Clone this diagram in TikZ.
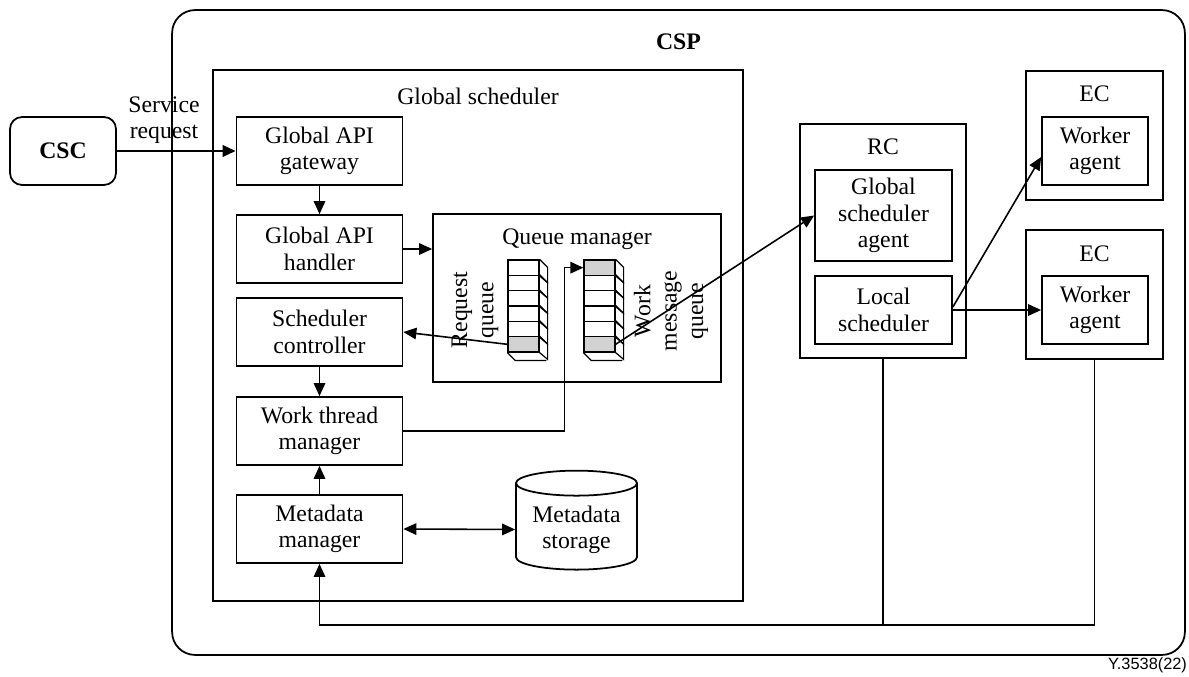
\documentclass[tikz,border=0pt]{standalone}
\usepackage{fontspec}
\setmainfont{Liberation Serif}
\newfontfamily\figsans{Liberation Sans}
\usetikzlibrary{arrows.meta,shapes.geometric}

\begin{document}
\begin{tikzpicture}[
		x=0.02cm, y=-0.02cm,
		font=\fontsize{13.5}{15}\selectfont,
		box/.style={
			draw,
			line width=1pt,
			align=center,
			minimum width=3.32cm,
			minimum height=1.36cm,
			inner sep=2pt
		},
		frame/.style={draw, line width=1pt, inner sep=0pt},
		cell/.style={draw, line width=0.7pt, inner sep=0pt,
			minimum width=0.62cm, minimum height=0.3067cm},
		shaded/.style={fill=gray!35},
		line/.style={draw, line width=0.9pt},
		arr/.style={line, -{Triangle[length=2.6mm, width=2.3mm]}}
		]
		
		\useasboundingbox (0,0) rectangle (1189,676);
		
		% CSP outer frame
		\node[frame, rounded corners=0.46cm, minimum width=20.26cm, minimum height=12.9cm] (csp) at (678.5,332.5) {};
		\node[font=\fontsize{13.5}{15}\selectfont\bfseries] (csplabel) at (678.5,42) {CSP};
		
		% CSC
		\node[box, rounded corners=0.24cm, minimum width=2.12cm, font=\fontsize{13.5}{15}\selectfont\bfseries] (csc) at (63,151) {CSC};
		
		% Global scheduler
		\node[frame, minimum width=10.6cm, minimum height=10.62cm] (gs) at (478,335.5) {};
		\node (gslabel) at (478,96) {Global scheduler};
		
		\node[box] (gw) at (319.5,151) {Global API\\gateway};
		\node[box] (gh) at (319.5,249) {Global API\\handler};
		\node[box] (sc) at (319.5,332) {Scheduler\\controller};
		\node[box] (wtm) at (319.5,431) {Work thread\\manager};
		\node[box] (mm) at (319.5,529) {Metadata\\manager};
		
		\node[cylinder, shape border rotate=90, draw, line width=1pt, aspect=0.25,
			minimum width=2.42cm, minimum height=1.98cm, align=center] (ms) at (576.5,529.5) {Metadata\\storage};
		
		% Queue manager
		\node[frame, minimum width=5.76cm, minimum height=3.36cm] (qm) at (577,298) {};
		\node (qmlabel) at (577,239) {Queue manager};
		
		% Queues
		\foreach \i in {1,...,6} {
			\node[cell] (rq\i) at (523.5,{260+15.33*(\i-0.5)}) {};
			\node[cell] (wq\i) at (599.5,{260+15.33*(\i-0.5)}) {};
			\draw[line width=0.7pt] (rq\i.north east) -- ++(8,8) -- ++(0,15.33) -- (rq\i.south east);
			\draw[line width=0.7pt] (wq\i.north east) -- ++(8,8) -- ++(0,15.33) -- (wq\i.south east);
		}
		\node[cell, shaded] at (rq6) {};
		\node[cell, shaded] at (wq1) {};
		\node[cell, shaded] at (wq6) {};
		\draw[line width=0.7pt] (rq6.south west) -- ++(8,8) -- ++(31,0);
		\draw[line width=0.7pt] (wq6.south west) -- ++(8,8) -- ++(31,0);
		
		\node[rotate=90, align=center] (rqlabel) at (475,310) {Request\\queue};
		\node[rotate=90, align=center] (wqlabel) at (671,311) {Work\\message\\queue};
		
		% RC
		\node[frame, minimum width=3.32cm, minimum height=4.68cm] (rc) at (883,241) {};
		\node (rclabel) at (883,147) {RC};
		\node[box, minimum width=2.74cm, minimum height=1.82cm] (gsa) at (883.5,215.5) {Global\\scheduler\\agent};
		\node[box, minimum width=2.74cm] (ls) at (883.5,310) {Local\\scheduler};
		
		% EC top
		\node[frame, minimum width=2.74cm, minimum height=2.58cm] (ec1) at (1094.5,135.5) {};
		\node (ec1label) at (1094.5,94) {EC};
		\node[box, minimum width=2.12cm] (wa1) at (1095,151) {Worker\\agent};
		
		% EC bottom
		\node[frame, minimum width=2.74cm, minimum height=2.58cm] (ec2) at (1094.5,294.5) {};
		\node (ec2label) at (1094.5,253.5) {EC};
		\node[box, minimum width=2.12cm] (wa2) at (1095,310) {Worker\\agent};
		
		% Service request
		\draw[arr, line width=1.3pt] (csc.east) -- (gw.west);
		\node[align=center] (srv) at (164,120) {Service\\request};
		
		% Inside global scheduler
		\draw[arr] (gw.south) -- (gh.north);
		\draw[arr] (gh.east) -- (gh.east -| qm.west);
		\draw[arr] (rq6.west) -- (sc.east);
		\draw[arr] (sc.south) -- (wtm.north);
		\draw[arr] (mm.north) -- (wtm.south);
		\draw[arr] (wtm.east) -- ++(161,0) |- (wq1.west);
		\draw[line, {Triangle[length=2.6mm, width=2.3mm]}-{Triangle[length=2.6mm, width=2.3mm]}] (mm.east) -- (ms.west);
		
		% To RC and ECs
		\draw[arr] (wq6.east) -- (gsa.west);
		\draw[arr] ([yshift=0.06cm]ls.east) -- ([yshift=-0.12cm]wa1.west);
		\draw[arr] (ls.east) -- (wa2.west);
		
		% Return path to metadata manager
		\draw[line] (rc.south) -- ++(0,266);
		\draw[arr] (ec2.south) -- ++(0,265) -| (mm.south);
		
		\node[font=\figsans\fontsize{9.3}{11}\selectfont] (figno) at (1147.5,665) {Y.3538(22)};
		
	\end{tikzpicture}
\end{document}
